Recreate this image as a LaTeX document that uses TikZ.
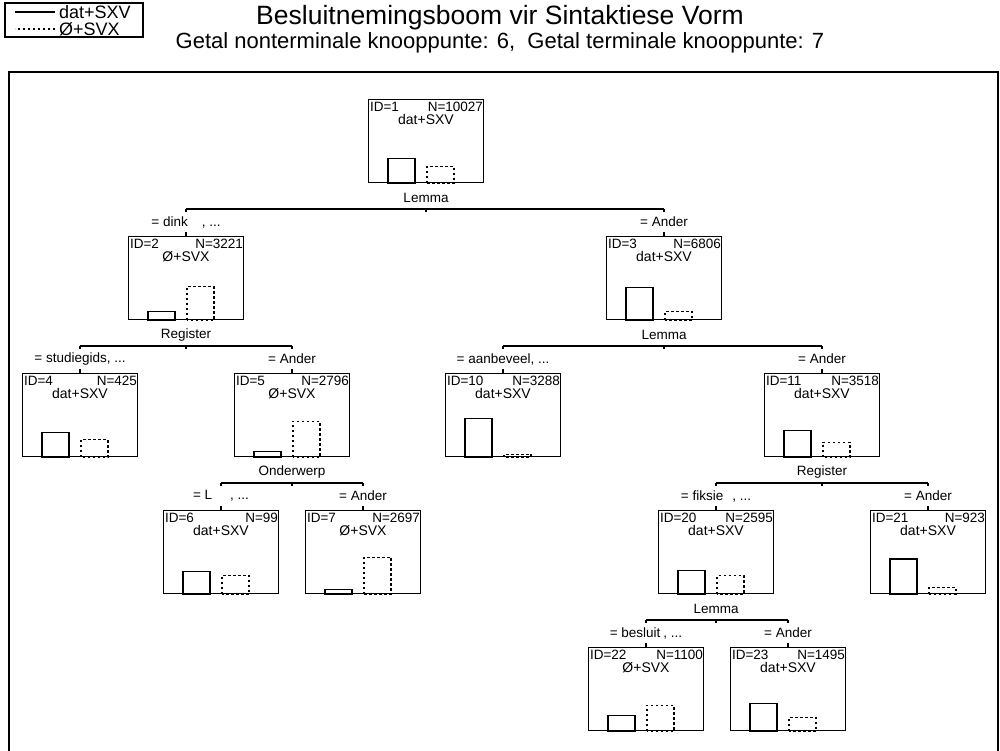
\documentclass[tikz,border=0pt]{standalone}
\usepackage{fontspec}
\setmainfont{Liberation Sans}
\usetikzlibrary{positioning, calc}

% one leaf/inner node of the tree: name, x, top y, id, N, class, share dat+SXV, share O+SVX
\newcommand{\treebox}[8]{
  \node[box, anchor=north] (#1) at (#2,#3) {};
  \node[info, anchor=north west] at ([xshift=2pt,yshift=-3pt]#1.north west) {ID=#4};
  \node[info, anchor=north east] at ([xshift=-1pt,yshift=-3pt]#1.north east) {N=#5};
  \node[info, anchor=north, font=\fontsize{14}{16}\selectfont] at ([yshift=-15pt]#1.north) {#6};
  \draw[sbar] ([xshift=-38pt]#1.south) rectangle ++(27pt,{#7*42pt});
  \draw[dbar] ([xshift=1pt]#1.south) rectangle ++(27pt,{#8*42pt});
}
% split below a node: parent, left child, right child, variable, left label, right label
\newcommand{\branch}[6]{
  \node[info] at ([yshift=-15pt]#1.south) {#4};
  \draw[split] ([yshift=27pt]#2.north) -- ([yshift=27pt]#3.north);
  \draw[split] ([yshift=27pt]#2.north) -- ++(0,3);
  \draw[split] ([yshift=27pt]#3.north) -- ++(0,3);
  \draw[split] ($(#1.south)+(0,27)$) -- ++(0,2);
  \node[info] at ([yshift=14pt]#2.north) {#5};
  \node[info] at ([yshift=14pt]#3.north) {#6};
  \draw[split] ([yshift=4pt]#2.north) -- (#2.north);
  \draw[split] ([yshift=4pt]#3.north) -- (#3.north);
}

\begin{document}
\begin{tikzpicture}[x=1pt, y=-1pt,
    box/.style={draw, line width=1.3pt, minimum width=115pt, minimum height=83pt, inner sep=0pt},
    info/.style={inner sep=0pt, font=\fontsize{13.5}{15}\selectfont},
    leg/.style={inner sep=0pt, font=\fontsize{18}{21}\selectfont},
    sbar/.style={line width=1.1pt},
    dbar/.style={line width=1.1pt, dash pattern=on 2.5pt off 2.5pt},
    split/.style={line width=1.1pt}
]
\useasboundingbox (0,0) rectangle (1000,750);
\clip (0,0) rectangle (1000,750);

% legend and titles
\draw[line width=1.2pt] (5,3) rectangle (143,37);
\node[leg, anchor=west] (kdat) at (59,12) {dat+SXV};
\node[leg, anchor=west] (ksvx) at (59,29) {Ø+SVX};
\draw[sbar] ([xshift=-4pt]kdat.west) -- ++(-40,0);
\draw[dbar] ([xshift=-4pt]ksvx.west) -- ++(-40,0);
\node[leg, font=\fontsize{26.5}{30}\selectfont] (title) at (500,18) {Besluitnemingsboom vir Sintaktiese Vorm};
\node[leg, font=\fontsize{22}{25}\selectfont] (counts) at (500,43) {Getal nonterminale knooppunte: 6,\ \ Getal terminale knooppunte: 7};
\draw[line width=1.3pt] (9,72) rectangle (998,760);

% nodes
\treebox{n1}{426}{99}{1}{10027}{dat+SXV}{0.6}{0.4}
\treebox{n2}{186}{236}{2}{3221}{Ø+SVX}{0.2}{0.8}
\treebox{n3}{664}{236}{3}{6806}{dat+SXV}{0.79}{0.21}
\treebox{n4}{80}{373}{4}{425}{dat+SXV}{0.58}{0.42}
\treebox{n5}{292}{373}{5}{2796}{Ø+SVX}{0.14}{0.86}
\treebox{n10}{503}{373}{10}{3288}{dat+SXV}{0.93}{0.07}
\treebox{n11}{822}{373}{11}{3518}{dat+SXV}{0.64}{0.36}
\treebox{n6}{221}{510}{6}{99}{dat+SXV}{0.55}{0.45}
\treebox{n7}{363}{510}{7}{2697}{Ø+SVX}{0.12}{0.88}
\treebox{n20}{716}{510}{20}{2595}{dat+SXV}{0.56}{0.44}
\treebox{n21}{928}{510}{21}{923}{dat+SXV}{0.84}{0.16}
\treebox{n22}{646}{647}{22}{1100}{Ø+SVX}{0.38}{0.62}
\treebox{n23}{788}{647}{23}{1495}{dat+SXV}{0.67}{0.33}

% splits
\branch{n1}{n2}{n3}{Lemma}{= dink\hspace{14pt}, ...}{= Ander}
\branch{n2}{n4}{n5}{Register}{= studiegids, ...}{= Ander}
\branch{n3}{n10}{n11}{Lemma}{= aanbeveel, ...}{= Ander}
\branch{n5}{n6}{n7}{Onderwerp}{= L\hspace{18pt}, ...}{= Ander}
\branch{n11}{n20}{n21}{Register}{= fiksie\hspace{9pt}, ...}{= Ander}
\branch{n20}{n22}{n23}{Lemma}{= besluit\hspace{3pt}, ...}{= Ander}
\end{tikzpicture}
\end{document}
